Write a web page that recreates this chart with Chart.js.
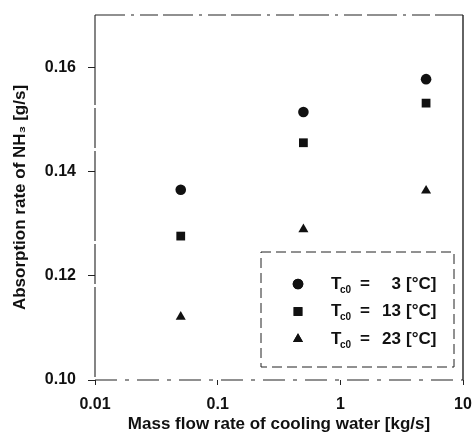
<!DOCTYPE html>
<html>
<head>
<meta charset="utf-8">
<script src="https://cdn.jsdelivr.net/npm/chart.js@4"></script>
<style>
  html, body { margin: 0; padding: 0; background: #fff; }
  #wrap { width: 475px; height: 439px; }
</style>
</head>
<body>
<div id="wrap"><canvas id="chart"></canvas></div>
<script>
// flow rate of cooling water [kg/s]
const flowRates = [0.05, 0.5, 5];
// absorption rate [g/s] per inlet temperature
const rateT3 = [0.1365, 0.1514, 0.1577];
const rateT13 = [0.1276, 0.1455, 0.1531];
const rateT23 = [0.1121, 0.1289, 0.1363];
const inletTemps = [3, 13, 23];
const markerStyles = ['circle', 'rect', 'triangle'];
const markerSizes = [5.3, 6.2, 5.8];

const xTicks = [0.01, 0.1, 1, 10];
const yTicks = [0.10, 0.12, 0.14, 0.16];

const FONT = "'Liberation Sans', Arial, sans-serif";
const INK = '#111';

const seriesValues = [rateT3, rateT13, rateT23];
const datasets = seriesValues.map((vals, i) => ({
  label: 'Tc0 = ' + inletTemps[i] + ' [°C]',
  data: flowRates.map((x, j) => ({ x: x, y: vals[j] })),
  pointStyle: markerStyles[i],
  pointRadius: markerSizes[i],
  backgroundColor: INK,
  borderColor: INK,
  borderWidth: 0,
  showLine: false
}));

// scanned-looking frame around plot area
const framePlugin = {
  id: 'frame',
  afterDraw(chart) {
    const { ctx, chartArea: a } = chart;
    ctx.save();
    ctx.strokeStyle = '#222';
    ctx.lineWidth = 1.1;
    // top edge
    ctx.setLineDash([30, 6, 3, 6, 18, 5]);
    ctx.beginPath(); ctx.moveTo(a.left, a.top); ctx.lineTo(a.right, a.top); ctx.stroke();
    // bottom edge
    ctx.setLineDash([22, 8, 4, 8]);
    ctx.beginPath(); ctx.moveTo(a.left, a.bottom); ctx.lineTo(a.right, a.bottom); ctx.stroke();
    // left and right edges
    ctx.setLineDash([90, 3, 40, 3]);
    ctx.beginPath(); ctx.moveTo(a.left, a.top); ctx.lineTo(a.left, a.bottom); ctx.stroke();
    ctx.setLineDash([]);
    ctx.lineWidth = 1.4;
    ctx.beginPath(); ctx.moveTo(a.right, a.top); ctx.lineTo(a.right, a.bottom); ctx.stroke();
    ctx.restore();
  }
};

// legend box inside the plot, with subscripted labels
const legendPlugin = {
  id: 'boxLegend',
  afterDraw(chart) {
    const { ctx, chartArea: a } = chart;
    const bx = a.left + 166, by = a.top + 237;
    const bw = a.right - 9 - bx, bh = a.bottom - 13 - by;
    ctx.save();
    ctx.strokeStyle = '#222';
    ctx.lineWidth = 1;
    ctx.setLineDash([10, 5]);
    ctx.strokeRect(bx, by, bw, bh);
    ctx.setLineDash([]);
    ctx.fillStyle = INK;
    ctx.textBaseline = 'middle';
    inletTemps.forEach((t, i) => {
      const cy = by + 32 + i * 27.5;
      Chart.helpers.drawPoint(ctx, {
        pointStyle: markerStyles[i], radius: markerSizes[i], rotation: 0, borderWidth: 0
      }, bx + 37, cy);
      ctx.fill();
      const tx = bx + 70;
      ctx.textAlign = 'left';
      ctx.font = 'bold 17px ' + FONT;
      ctx.fillText('T', tx, cy);
      ctx.font = 'bold 10px ' + FONT;
      ctx.fillText('c0', tx + 9, cy + 6);
      ctx.font = 'bold 17px ' + FONT;
      ctx.fillText('=', tx + 29, cy);
      ctx.textAlign = 'right';
      ctx.fillText(String(t), tx + 70, cy);
      ctx.textAlign = 'left';
      ctx.fillText('[°C]', tx + 75, cy);
    });
    ctx.restore();
  }
};

new Chart(document.getElementById('chart'), {
  type: 'scatter',
  data: { datasets: datasets },
  options: {
    responsive: true,
    maintainAspectRatio: false,
    animation: false,
    layout: { padding: { top: 15, right: 12, left: 0, bottom: 0 } },
    plugins: { legend: { display: false }, tooltip: { enabled: false } },
    scales: {
      x: {
        type: 'logarithmic',
        min: xTicks[0],
        max: xTicks[xTicks.length - 1],
        afterBuildTicks: s => { s.ticks = xTicks.map(v => ({ value: v })); },
        afterFit: s => { s.height = 59; s.paddingLeft = 0; s.paddingRight = 0; },
        border: { display: false },
        grid: { drawOnChartArea: false, drawTicks: true, tickLength: 5, color: '#222' },
        ticks: {
          color: INK,
          font: { family: FONT, size: 16, weight: 'bold' },
          padding: 10,
          maxRotation: 0,
          callback: v => String(v)
        },
        title: {
          display: true,
          text: 'Mass flow rate of cooling water [kg/s]',
          color: INK,
          font: { family: FONT, size: 17, weight: 'bold' },
          padding: { top: 0, bottom: 4 }
        }
      },
      y: {
        min: 0.10,
        max: 0.17,
        afterBuildTicks: s => { s.ticks = yTicks.map(v => ({ value: v })); },
        afterFit: s => { s.width = 95; s.paddingTop = 0; s.paddingBottom = 0; },
        border: { display: false },
        grid: { drawOnChartArea: false, drawTicks: true, tickLength: 7, color: '#222' },
        ticks: {
          color: INK,
          font: { family: FONT, size: 16, weight: 'bold' },
          padding: 12,
          callback: v => v.toFixed(2)
        },
        title: {
          display: true,
          text: 'Absorption rate of NH₃ [g/s]',
          color: INK,
          font: { family: FONT, size: 17, weight: 'bold' },
          padding: { top: 10, bottom: 0 }
        }
      }
    }
  },
  plugins: [framePlugin, legendPlugin]
});
</script>
</body>
</html>
